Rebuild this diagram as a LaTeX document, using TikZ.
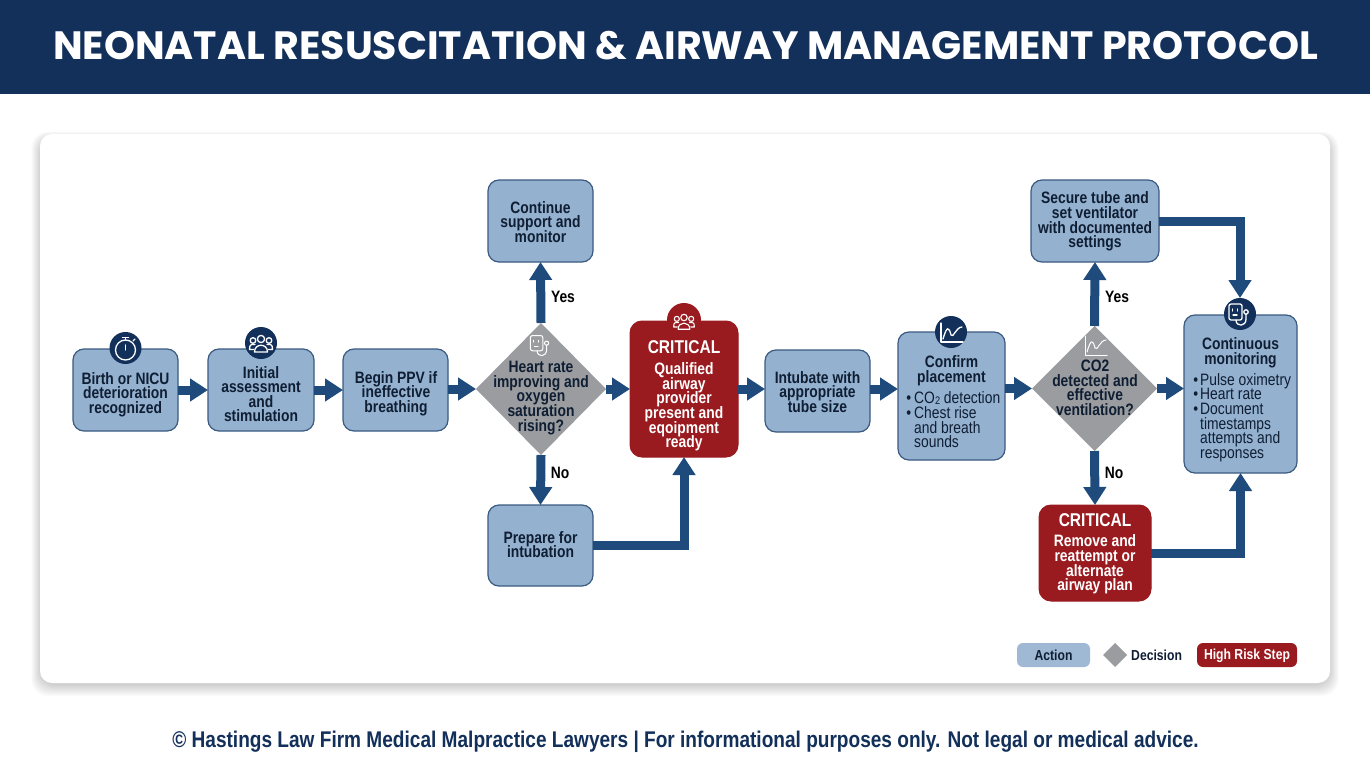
\documentclass[tikz,border=0pt]{standalone}
\usepackage{fontspec}
\setmainfont{Liberation Sans}
\newfontfamily\cond[FakeStretch=0.84]{Liberation Sans}
\newfontfamily\headf{Poppins}
\usetikzlibrary{arrows.meta,shapes.geometric}
\definecolor{navy}{HTML}{12305A}
\definecolor{boxf}{HTML}{94B1D0}
\definecolor{boxl}{HTML}{3A5A80}
\definecolor{redf}{HTML}{9A1B1F}
\definecolor{grayf}{HTML}{9A9C9F}
\definecolor{arrowc}{HTML}{1F4A7C}
\definecolor{ink}{HTML}{0F1E33}
\newcommand\tight{\lineskiplimit=-30pt\relax}
\tikzset{
 x=1pt,y=-1pt,
 action/.style={draw=boxl,line width=1.2pt,fill=boxf,rounded corners=11pt,inner sep=0pt,outer sep=0pt},
 risk/.style={draw=redf,line width=1pt,fill=redf,rounded corners=12pt,inner sep=0pt,outer sep=0pt},
 decision/.style={diamond,fill=grayf,inner sep=0pt,outer sep=0pt},
 icondisc/.style={circle,fill=navy,inner sep=0pt,outer sep=0pt,minimum size=32pt},
 riskdisc/.style={circle,fill=redf,inner sep=0pt,outer sep=0pt,minimum size=34pt},
 flow/.style={arrowc,line width=9pt,-{Triangle[width=22pt,length=18pt]}},
 txt/.style={font=\cond\bfseries\fontsize{16.5}{14.6}\selectfont\tight,text=ink,align=center,inner sep=0pt},
 wtxt/.style={txt,text=white},
 hdtxt/.style={font=\cond\bfseries\fontsize{18.5}{20}\selectfont,text=white,inner sep=0pt},
 plain/.style={font=\cond\fontsize{16.5}{14.7}\selectfont\tight,text=ink,align=left,inner sep=0pt,anchor=west},
 lab/.style={font=\cond\bfseries\fontsize{16.5}{16}\selectfont,text=black,inner sep=0pt},
 leg/.style={font=\cond\bfseries\fontsize{14.5}{15}\selectfont,text=ink,inner sep=0pt},
 ico/.style={white,line width=1.3pt,line cap=round,line join=round},
}
\newcommand\bx[6]{\node[#6,minimum width={#4-#2},minimum height={#5-#3}] (#1) at ({(#2+#4)/2},{(#3+#5)/2}) {};}
\newcommand\icoGraph[3]{\begin{scope}[shift={(#1,#2)},ico,#3]
 \draw (-10,-10) -- (-10,9) -- (12,9);
 \draw (-8,6) .. controls (-4,-8) and (-2,-6) .. (0,2) .. controls (2,6) and (5,-6) .. (11,-6);
\end{scope}}
\newcommand\icoPeople[3]{\begin{scope}[shift={(#1,#2)},ico,#3]
 \draw (0,-5) circle (3.6);
 \draw (-8,-3.5) circle (2.8);
 \draw (8,-3.5) circle (2.8);
 \draw (-6.5,8) .. controls (-6.5,-1) and (6.5,-1) .. (6.5,8) -- cycle;
 \draw (-7.5,5.5) -- (-11.5,5.5) .. controls (-12,0) and (-8,-0.5) .. (-6,0.5);
 \draw (7.5,5.5) -- (11.5,5.5) .. controls (12,0) and (8,-0.5) .. (6,0.5);
\end{scope}}
\newcommand\icoMonitor[3]{\begin{scope}[shift={(#1,#2)},ico,#3]
 \draw[rounded corners=2pt] (-9,-11) rectangle (4,5);
 \draw (-5.5,-6) -- (-5.5,-4) (-0.5,-6) -- (-0.5,-4) (-5,0) -- (-1,0);
 \draw (-2,5) .. controls (-2,12) and (8,12) .. (8,4) -- (8,-1);
 \draw (8,-3) circle (2.2);
\end{scope}}
\begin{document}
\begin{tikzpicture}
\useasboundingbox (0,0) rectangle (1370,765);
\fill[white] (0,0) rectangle (1370,765);
% header
\fill[navy] (0,0) rectangle (1370,94);
\node[font=\headf\bfseries\fontsize{39.5}{42}\selectfont,text=white,inner sep=0pt] (title) at (685.5,46) {NEONATAL RESUSCITATION \& AIRWAY MANAGEMENT PROTOCOL};
% panel with soft shadow
\foreach \i in {1,...,12}{
 \fill[black,opacity=0.016,rounded corners=16pt] ({41-\i*0.8},{139-\i*0.6}) rectangle ({1329+\i*0.8},{684+\i});
}
\fill[white,rounded corners=12pt] (40,134) rectangle (1330,683);
% boxes
\bx{birth}{73}{349}{178}{431}{action}
\bx{init}{208}{349}{314}{431}{action}
\bx{ppv}{343}{349}{448}{431}{action}
\bx{hr}{476}{323}{606}{455}{decision}
\bx{cont}{488}{180}{593}{262}{action}
\bx{prep}{488}{505}{593}{586}{action}
\node[riskdisc] (discA) at (684,320) {};
\bx{qual}{630}{321}{738}{457}{risk}
\bx{tube}{765}{350}{870}{432}{action}
\bx{conf}{898}{332}{1005}{460}{action}
\bx{co}{1032}{326}{1157}{451}{decision}
\bx{secure}{1031}{180}{1159}{262}{action}
\bx{mon}{1184}{315}{1297}{473}{action}
\bx{rem}{1039}{505}{1151}{601}{risk}
% icon discs
\node[icondisc] (discB) at (125.5,348) {};
\node[icondisc] (discC) at (261,343) {};
\node[icondisc] (discD) at (951,332) {};
\node[icondisc] (discE) at (1240,314) {};
% icons
\begin{scope}[shift={(125.5,349)},ico]
 \draw (0,1) circle (10);
 \draw (0,-9) -- (0,-11);
 \draw (-3,-11.5) -- (3,-11.5);
 \draw (7.5,-8) -- (9.5,-10);
 \draw (0,1) -- (0,-4);
\end{scope}
\icoPeople{261}{344}{}
\icoPeople{684}{322}{line width=1.1pt,scale=0.9}
\icoGraph{951}{333}{}
\icoMonitor{1238}{315}{}
\icoMonitor{539}{346}{line width=1pt,scale=0.95}
\icoGraph{1095}{346}{line width=1pt}
% connectors
\draw[flow] (birth.east) -- (init.west);
\draw[flow] (init.east) -- (ppv.west);
\draw[flow] (ppv.east |- hr.west) -- (hr.west);
\draw[flow] (hr.east) -- (qual.west);
\draw[flow] (hr.north) -- (cont.south);
\draw[flow] (hr.south) -- (prep.north);
\draw[flow] (prep.east) -| (qual.south);
\draw[flow] (qual.east) -- (tube.west |- qual.east);
\draw[flow] (tube.east |- qual.east) -- (conf.west |- qual.east);
\draw[flow] (conf.east |- co.west) -- (co.west);
\draw[flow] (co.east) -- (mon.west |- co.east);
\draw[flow] (co.north) -- (secure.south);
\draw[flow] (co.south) -- (rem.north);
\draw[flow] (secure.east) -| (discE.north);
\draw[flow] (rem.east) -| (mon.south);
% texts
\node[txt] (tBirth) at (125.5,394.5) {Birth or NICU\\deterioration\\recognized};
\node[txt] (tInit) at (261,394) {Initial\\assessment\\and\\stimulation};
\node[txt] (tPpv) at (396,393.5) {Begin PPV if\\ineffective\\breathing};
\node[txt] (tHr) at (541,398) {Heart rate\\improving and\\oxygen\\saturation\\rising?};
\node[txt] (tCont) at (540.5,222) {Continue\\support and\\monitor};
\node[txt] (tPrep) at (540.5,544.5) {Prepare for\\intubation};
\node[hdtxt] (tCritA) at (684,347) {CRITICAL};
\node[wtxt] (tQual) at (684,407) {Qualified\\airway\\provider\\present and\\eqoipment\\ready};
\node[txt] (tTube) at (817.5,392) {Intubate with\\appropriate\\tube size};
\node[txt] (tConf) at (951.5,371) {Confirm\\placement};
\node[plain] (tConfL) at (914,420) {\llap{•\hspace{3pt}}CO\raisebox{-1pt}{\fontsize{11}{11}\selectfont 2} detection\\\llap{•\hspace{3pt}}Chest rise\\and breath\\sounds};
\node[txt] (tCo) at (1095,388) {CO2\\detected and\\effective\\ventilation?};
\node[txt] (tSec) at (1095,221.5) {Secure tube and\\set ventilator\\with documented\\settings};
\node[txt] (tMon) at (1240.5,353) {Continuous\\monitoring};
\node[plain] (tMonL) at (1200,417.5) {\llap{•\hspace{2pt}}Pulse oximetry\\\llap{•\hspace{2pt}}Heart rate\\\llap{•\hspace{2pt}}Document\\timestamps\\attempts and\\responses};
\node[hdtxt] (tCritB) at (1095,520) {CRITICAL};
\node[wtxt] (tRem) at (1095,564.5) {Remove and\\reattempt or\\alternate\\airway plan};
\node[lab] (yesA) at (563,297) {Yes};
\node[lab] (noA) at (560,473) {No};
\node[lab] (yesB) at (1117,297) {Yes};
\node[lab] (noB) at (1114,473) {No};
% legend
\node[fill=boxf!90!white,rounded corners=6pt,minimum width=73pt,minimum height=24pt,inner sep=0pt] (lgA) at (1053.5,655) {};
\node[leg] (lgAt) at (1053.5,655.5) {Action};
\node[decision,minimum width=24pt,minimum height=24pt] (lgB) at (1115,655) {};
\node[leg,anchor=west] (lgBt) at (1131,655.5) {Decision};
\node[fill=redf,rounded corners=6pt,minimum width=100pt,minimum height=24pt,inner sep=0pt] (lgC) at (1247,655) {};
\node[leg,text=white] (lgCt) at (1247,655.5) {High Risk Step};
% footer
\node[font=\cond\bfseries\fontsize{22.7}{24}\selectfont,text=navy,inner sep=0pt] (foot) at (685.5,741.5) {© Hastings Law Firm Medical Malpractice Lawyers | For informational purposes only. Not legal or medical advice.};
\end{tikzpicture}
\end{document}
